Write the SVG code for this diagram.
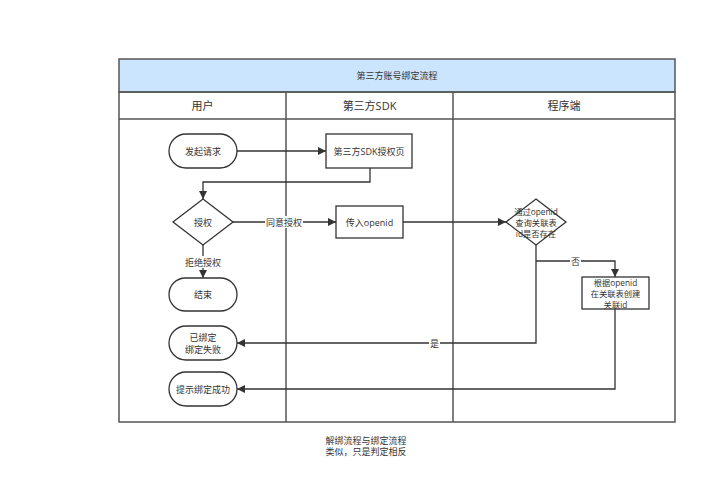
<svg xmlns="http://www.w3.org/2000/svg" width="716" height="500" viewBox="0 0 716 500">
<defs>
<marker id="arr" viewBox="0 0 10 10" refX="10" refY="5" markerWidth="8" markerHeight="8" markerUnits="userSpaceOnUse" orient="auto">
<path d="M0,0 L10,5 L0,10 Z" fill="#333"/>
</marker>
<style>
text{font-family:"Open Sans","Noto Sans CJK SC",sans-serif;fill:#333;text-anchor:middle;dominant-baseline:central}
.t{font-size:9px}
.s{font-size:8.3px}
.h{font-size:11px}
.frame{fill:none;stroke:#555;stroke-width:1.5}
.node{fill:#fff;stroke:#333;stroke-width:1.3}
.edge{fill:none;stroke:#333;stroke-width:1.3;marker-end:url(#arr)}
.lbl{fill:#fff}
</style>
</defs>
<rect width="716" height="500" fill="#fff"/>
<g id="pool">
<rect x="119" y="59" width="556" height="33" fill="#cce5ff" stroke="#555" stroke-width="1.5"/>
<text class="t" x="397" y="75.5">第三方账号绑定流程</text>
<rect class="frame" x="119" y="92" width="556" height="330"/>
<line class="frame" x1="119" y1="119" x2="675" y2="119"/>
<line class="frame" x1="286" y1="92" x2="286" y2="422"/>
<line class="frame" x1="453" y1="92" x2="453" y2="422"/>
<text class="h" x="202.5" y="105.5">用户</text>
<text class="h" x="369.5" y="105.5">第三方SDK</text>
<text class="h" x="564" y="105.5">程序端</text>
</g>
<g id="edges">
<path class="edge" d="M237,151 L326,151"/>
<path class="edge" d="M370,168 L370,182 L203,182 L203,199"/>
<path class="edge" d="M233,222 L336,222"/>
<rect class="lbl" x="265" y="216" width="38" height="12"/>
<text class="t" x="284" y="222">同意授权</text>
<path class="edge" d="M203,245 L203,278"/>
<rect class="lbl" x="184" y="256" width="38" height="12"/>
<text class="t" x="203" y="262">拒绝授权</text>
<path class="edge" d="M403,222 L506,222"/>
<path class="edge" d="M536,245 L536,343 L237,343"/>
<rect class="lbl" x="429" y="337" width="11" height="12"/>
<text class="t" x="434.5" y="343">是</text>
<path class="edge" d="M536,261 L615,261 L615,277"/>
<rect class="lbl" x="570" y="255" width="11" height="12"/>
<text class="t" x="575.5" y="261">否</text>
<path class="edge" d="M615,309 L615,389 L237,389"/>
</g>
<g id="start">
<rect class="node" x="169" y="134" width="68" height="34" rx="17"/>
<text class="t" x="203" y="151">发起请求</text>
</g>
<g id="sdkPage">
<rect class="node" x="326" y="134" width="86" height="34"/>
<text class="t" x="369" y="151">第三方SDK授权页</text>
</g>
<g id="auth">
<path class="node" d="M203,199 L233,222 L203,245 L173,222 Z"/>
<text class="t" x="203" y="222">授权</text>
</g>
<g id="passOpenid">
<rect class="node" x="336" y="206" width="67" height="32"/>
<text class="t" x="369.5" y="222">传入openid</text>
</g>
<g id="check">
<path class="node" d="M536,199 L566,222 L536,245 L506,222 Z"/>
<text class="s" x="536" y="211.5">通过openid</text>
<text class="s" x="536" y="222.5">查询关联表</text>
<text class="s" x="536" y="233.5">id是否存在</text>
</g>
<g id="create">
<rect class="node" x="582" y="277" width="67" height="32"/>
<text class="s" x="615.5" y="282.5">根据openid</text>
<text class="s" x="615.5" y="293.5">在关联表创建</text>
<text class="s" x="615.5" y="304.5">关联id</text>
</g>
<g id="end">
<rect class="node" x="169" y="278" width="68" height="33" rx="16.5"/>
<text class="t" x="203" y="294.5">结束</text>
</g>
<g id="failed">
<rect class="node" x="169" y="326" width="68" height="34" rx="17"/>
<text class="t" x="203" y="337">已绑定</text>
<text class="t" x="203" y="349.5">绑定失败</text>
</g>
<g id="success">
<rect class="node" x="169" y="372" width="68" height="34" rx="17"/>
<text class="t" x="203" y="389">提示绑定成功</text>
</g>
<g id="note">
<text class="t" x="366" y="440">解绑流程与绑定流程</text>
<text class="t" x="366" y="451.5">类似，只是判定相反</text>
</g>
</svg>
